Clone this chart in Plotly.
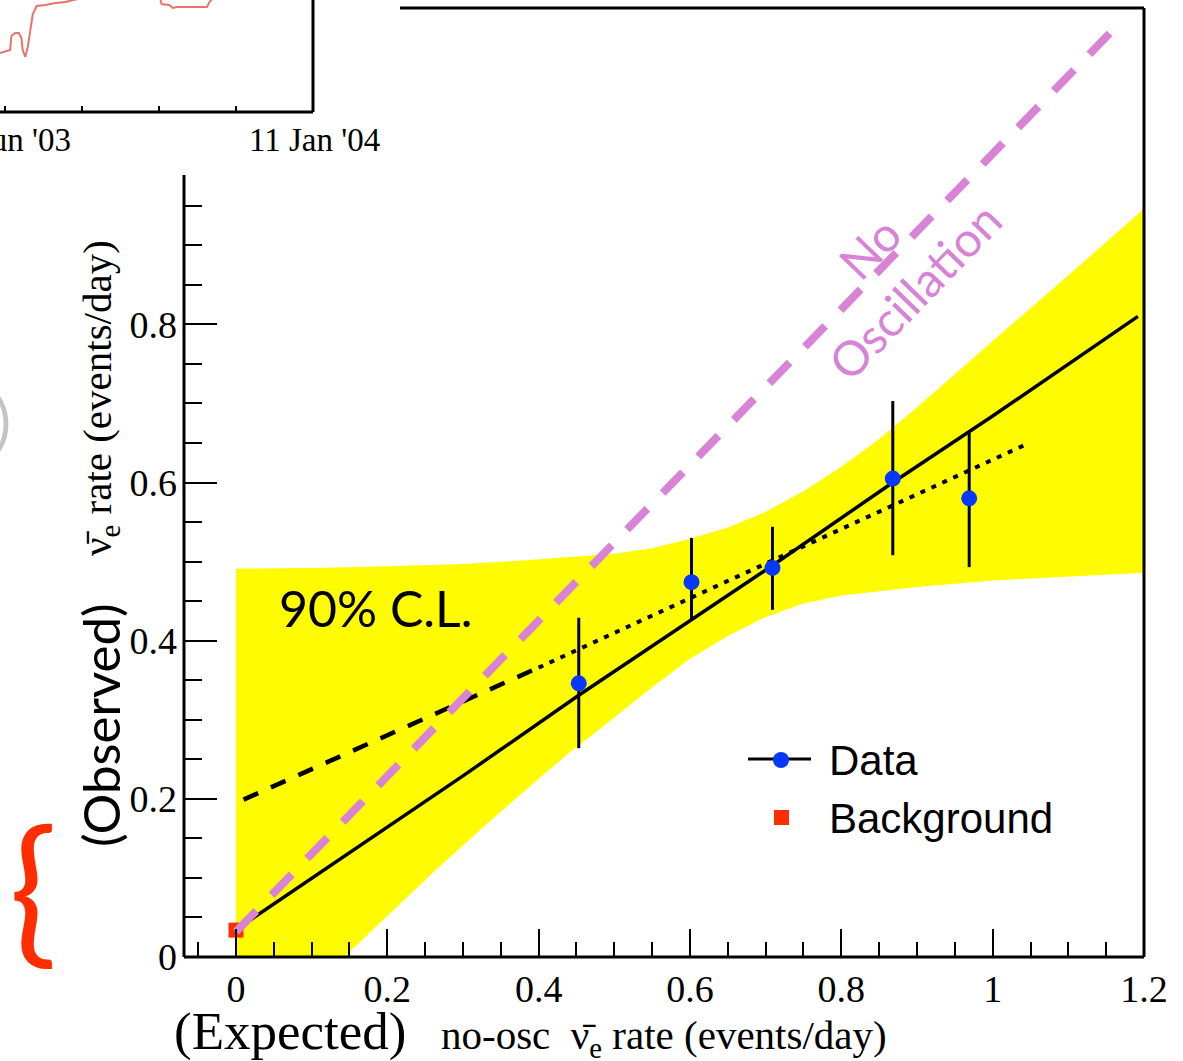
import plotly.graph_objects as go

W, H = 1183, 1061

# ---- main panel: measured rates vs. no-oscillation expectation ----
data_x = [0.453, 0.602, 0.709, 0.868, 0.969]
data_y = [0.346, 0.474, 0.492, 0.605, 0.580]
data_err_up = [0.083, 0.056, 0.052, 0.098, 0.083]
data_err_dn = [0.082, 0.049, 0.053, 0.097, 0.087]

bkg_x = [0.0]
bkg_y = [0.034]

# best-fit line
fit_x = [0.013, 0.1, 0.2, 0.3, 0.453, 0.6, 0.709, 0.868, 1.0, 1.192]
fit_y = [0.043, 0.099, 0.164, 0.229, 0.331, 0.425, 0.495, 0.600, 0.684, 0.810]

# alternative fit (dashed part, then dotted part)
alt_dash_x = [0.01, 0.40]
alt_dash_y = [0.199, 0.366]
alt_dot_x = [0.40, 1.046]
alt_dot_y = [0.366, 0.649]

# no-oscillation expectation
noosc_x = [0.0, 1.17]
noosc_y = [0.032, 1.183]

# 90% C.L. band edges
cl_up_x = [0.0, 0.1, 0.2, 0.3, 0.375, 0.428, 0.5, 0.55, 0.6, 0.65, 0.7, 0.75, 0.8, 0.85,
           0.9, 0.95, 1.0, 1.1, 1.2]
cl_up_y = [0.491, 0.492, 0.494, 0.497, 0.501, 0.505, 0.510, 0.517, 0.529, 0.543, 0.563,
           0.589, 0.620, 0.655, 0.695, 0.737, 0.779, 0.862, 0.946]
cl_lo_x = [0.143, 0.2, 0.264, 0.33, 0.397, 0.4375, 0.5, 0.55, 0.6, 0.65, 0.7, 0.75, 0.8,
           0.9, 1.0, 1.2]
cl_lo_y = [0.0, 0.052, 0.110, 0.167, 0.223, 0.256, 0.303, 0.341, 0.377, 0.406, 0.430,
           0.447, 0.457, 0.468, 0.476, 0.486]

x_major = [0, 0.2, 0.4, 0.6, 0.8, 1.0, 1.2]
x_labels = ["0", "0.2", "0.4", "0.6", "0.8", "1", "1.2"]
x_minor = [-0.05, 0.05, 0.1, 0.15, 0.25, 0.3, 0.35, 0.45, 0.5, 0.55, 0.65, 0.7, 0.75,
           0.85, 0.9, 0.95, 1.05, 1.1, 1.15]
y_major = [0, 0.2, 0.4, 0.6, 0.8]
y_labels = ["0", "0.2", "0.4", "0.6", "0.8"]
y_minor = [0.05, 0.1, 0.15, 0.25, 0.3, 0.35, 0.45, 0.5, 0.55, 0.65, 0.7, 0.75, 0.85, 0.9, 0.95]

# ---- inset: rate history ----
inset_dates = ["2003-05-08", "2003-05-16", "2003-05-17", "2003-05-20", "2003-05-23", "2003-05-25",
               "2003-05-26", "2003-05-28", "2003-05-30", "2003-06-01", "2003-06-03", "2003-06-06",
               "2003-06-13", "2003-06-21", "2003-06-29", "2003-07-05", "2003-07-25", "2003-08-20",
               "2003-09-12", "2003-09-13", "2003-09-19", "2003-09-22", "2003-09-25", "2003-09-30",
               "2003-10-19", "2003-10-21", "2003-10-23", "2003-11-15", "2003-12-20", "2004-01-11"]
inset_rate = [0.59, 0.62, 0.76, 0.79, 0.79, 0.74, 0.62, 0.55, 0.65, 0.82, 0.98, 1.06,
              1.07, 1.09, 1.10, 1.12, 1.17, 1.19,
              1.13, 1.08, 1.07, 1.04, 1.05, 1.05,
              1.05, 1.10, 1.13, 1.18, 1.20, 1.19]
inset_ticks = ["2003-05-12", "2003-07-12", "2003-09-11", "2003-11-11", "2004-01-11"]

YELLOW = "#fffb00"
BLUE = "#0638ff"
RED = "#ff2d00"
PINK = "#d983d6"
SALMON = "#e8736a"
SERIF = "Liberation Serif"
HUMANIST = "Lato"
SANS = "Liberation Sans"


def px(x):
    return x / W


def py(y):
    return 1 - y / H


fig = go.Figure()

fig.add_trace(go.Scatter(
    x=[0] + cl_up_x + cl_lo_x[::-1], y=[0] + cl_up_y + cl_lo_y[::-1],
    fill="toself", fillcolor=YELLOW, mode="none", hoverinfo="skip"))

fig.add_trace(go.Scatter(x=fit_x, y=fit_y, mode="lines",
                         line=dict(color="black", width=3.5)))
fig.add_trace(go.Scatter(x=alt_dash_x, y=alt_dash_y, mode="lines",
                         line=dict(color="black", width=4.5, dash="16px,14px")))
fig.add_trace(go.Scatter(x=alt_dot_x, y=alt_dot_y, mode="lines",
                         line=dict(color="black", width=4, dash="5px,7px")))

fig.add_trace(go.Scatter(
    x=data_x, y=data_y, mode="markers",
    marker=dict(color=BLUE, size=16, line=dict(width=0)),
    error_y=dict(type="data", symmetric=False, array=data_err_up, arrayminus=data_err_dn,
                 thickness=3, width=0, color="black")))

fig.add_trace(go.Scatter(x=bkg_x, y=bkg_y, mode="markers",
                         marker=dict(color=RED, size=15, symbol="square", line=dict(width=0))))

fig.add_trace(go.Scatter(x=noosc_x, y=noosc_y, mode="lines",
                         line=dict(color=PINK, width=8, dash="29px,22px")))

fig.add_trace(go.Scatter(x=inset_dates, y=inset_rate, mode="lines",
                         line=dict(color=SALMON, width=2), xaxis="x2", yaxis="y2"))

tickfont = dict(family=SERIF, size=38, color="black")

fig.update_layout(
    width=W, height=H, margin=dict(l=0, r=0, t=0, b=0, autoexpand=False),
    paper_bgcolor="white", plot_bgcolor="rgba(0,0,0,0)", showlegend=False,
    xaxis=dict(domain=[px(184), px(1144)], range=[-0.0687, 1.2], anchor="y",
               automargin=False, showgrid=False, zeroline=False, showline=False,
               ticks="inside", ticklen=28, tickwidth=2, tickcolor="black",
               tickmode="array", tickvals=x_major, ticktext=x_labels, tickfont=tickfont,
               ticklabelstandoff=6, ticklabeloverflow="allow",
               minor=dict(tickmode="array", tickvals=x_minor, ticks="inside", ticklen=15,
                          tickwidth=2, tickcolor="black", showgrid=False)),
    yaxis=dict(domain=[py(957), py(8)], range=[0, 1.2], anchor="x",
               automargin=False, showgrid=False, zeroline=False, showline=False,
               ticks="inside", ticklen=33, tickwidth=2, tickcolor="black",
               tickmode="array", tickvals=y_major, ticktext=y_labels, tickfont=tickfont,
               ticklabelstandoff=6,
               minor=dict(tickmode="array", tickvals=y_minor, ticks="inside", ticklen=18,
                          tickwidth=2, tickcolor="black", showgrid=False)),
    xaxis2=dict(domain=[0, px(313)], range=["2003-05-08", "2004-01-11"], type="date",
                anchor="y2", automargin=False, showgrid=False, zeroline=False, showline=False,
                ticks="inside", ticklen=6, tickwidth=2, tickcolor="black",
                tickmode="array", tickvals=inset_ticks, showticklabels=False),
    yaxis2=dict(domain=[py(112), 1], range=[0, 1.12], anchor="x2", automargin=False,
                showgrid=False, zeroline=False, showline=False, showticklabels=False),
)

# frames
frame = [
    (184, 957, 1144, 957), (1144, 8, 1144, 957), (400, 8, 1144, 8), (184, 175, 184, 957),
    (313, 0, 313, 112), (0, 112, 313, 112),
]
for x0, y0, x1, y1 in frame:
    fig.add_shape(type="line", xref="paper", yref="paper",
                  x0=px(x0), y0=py(y0), x1=px(x1), y1=py(y1),
                  line=dict(color="black", width=3))

# legend
fig.add_shape(type="line", xref="paper", yref="paper", x0=px(748), x1=px(811),
              y0=py(759), y1=py(759), line=dict(color="black", width=3))
fig.add_shape(type="circle", xref="paper", yref="paper", x0=px(773), x1=px(789),
              y0=py(768), y1=py(752), fillcolor=BLUE, line=dict(width=0))
fig.add_shape(type="rect", xref="paper", yref="paper", x0=px(774), x1=px(789),
              y0=py(825), y1=py(810), fillcolor=RED, line=dict(width=0))


def label(text, x, y, size, family, color="black", angle=0, xanchor="center", yanchor="middle"):
    fig.add_annotation(text=text, x=px(x), y=py(y), xref="paper", yref="paper",
                       showarrow=False, textangle=angle, xanchor=xanchor, yanchor=yanchor,
                       align="center", borderpad=0,
                       font=dict(family=family, size=size, color=color))


label("Data", 828, 760, 42, SANS, xanchor="left")
label("Background", 828, 818, 42, SANS, xanchor="left")
label("90% C.L.", 278, 608, 50, HUMANIST, xanchor="left")
label("No<br>Oscillation", 891, 269, 48, HUMANIST, color=PINK, angle=-46)
label("no-osc  \u03bd\u0304<sub>e</sub> rate (events/day)", 664, 1038, 41, SERIF)
label("(Expected)", 290, 1031, 53, SERIF)
label("\u03bd\u0304<sub>e</sub> rate (events/day)", 100, 398, 41, SERIF, angle=-90)
label("(Observed)", 100, 725, 51, HUMANIST, angle=-90)
label("{", 33, 884, 160, HUMANIST, color=RED)
label(")", 12, 420, 60, HUMANIST, color="#c4c4c4", xanchor="right")
label("11 Jan '04", 314, 140, 33, SERIF)
label("Jun '03", 72, 140, 33, SERIF, xanchor="right")

fig.write_html("out.html")
